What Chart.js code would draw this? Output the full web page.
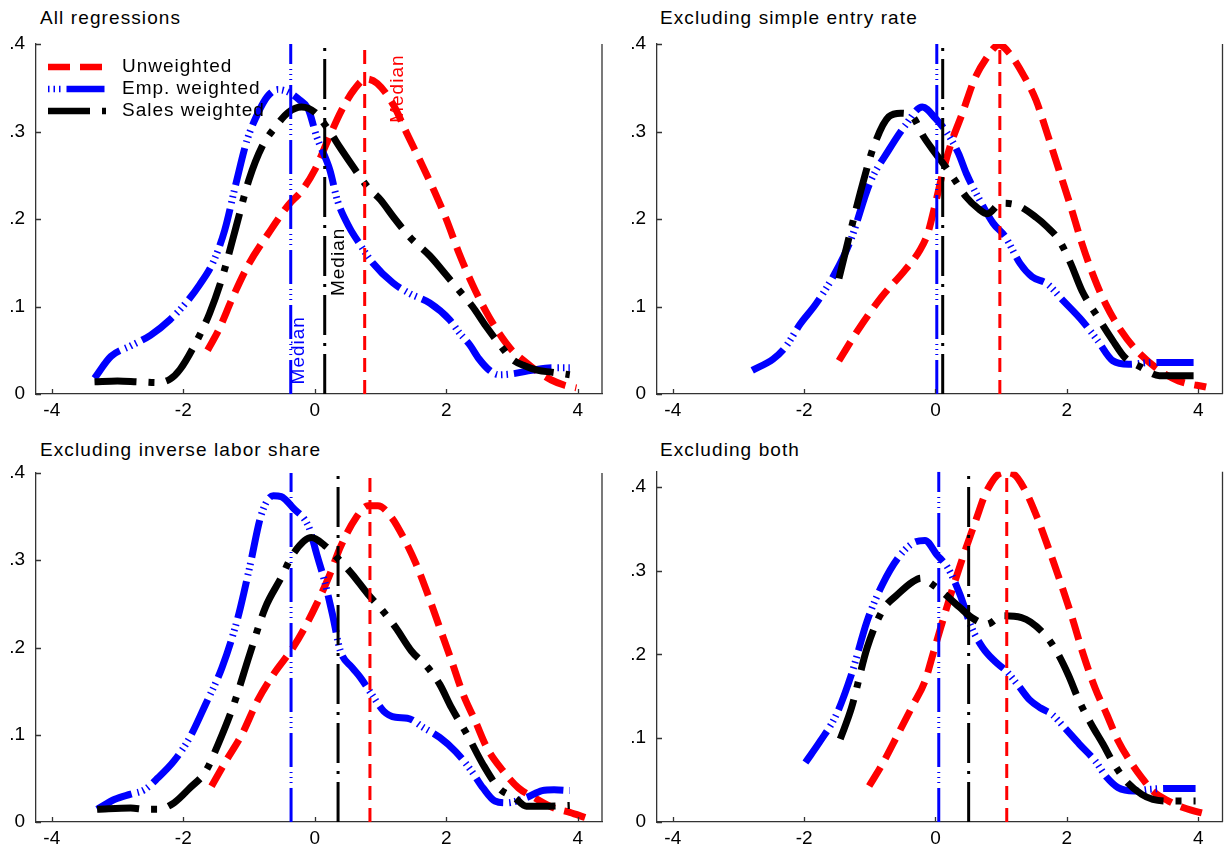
<!DOCTYPE html>
<html>
<head>
<meta charset="utf-8">
<script src="https://cdn.jsdelivr.net/npm/chart.js@4"></script>
<style>
  body { margin: 0; background: #fff; }
  #wrap { position: relative; width: 1225px; height: 851px; }
  canvas { position: absolute; }
  .ttl { position: absolute; font: 19px "Liberation Sans", Arial, sans-serif; letter-spacing: 1.1px; line-height: 22px; color: #000; white-space: nowrap; }
</style>
</head>
<body>
<div id="wrap">
  <div class="ttl" style="left:40px;top:7px">All regressions</div>
  <div class="ttl" style="left:660px;top:7px">Excluding simple entry rate</div>
  <div class="ttl" style="left:40px;top:439px">Excluding inverse labor share</div>
  <div class="ttl" style="left:660px;top:439px">Excluding both</div>
  <canvas id="c1" width="612" height="425" style="left:0;top:0"></canvas>
  <canvas id="c2" width="613" height="425" style="left:612px;top:0"></canvas>
  <canvas id="c3" width="612" height="423" style="left:0;top:428px"></canvas>
  <canvas id="c4" width="613" height="423" style="left:612px;top:428px"></canvas>
</div>
<script>
// tick labels
const xTicks = [-4, -2, 0, 2, 4];
const yTicks = [0, 0.1, 0.2, 0.3, 0.4];
const seriesNames = ["Unweighted", "Emp. weighted", "Sales weighted"];

// panel 1: all regressions
const p1UnwX = [-1.63,-1.45,-1.25,-1.0,-0.7,-0.4,-0.2,0.0,0.2,0.4,0.6,0.78,0.95,1.2,1.4,1.6,1.8,2.0,2.2,2.4,2.6,2.8,3.0,3.2,3.4,3.6,3.8,3.98];
const p1UnwY = [0.05,0.075,0.11,0.149,0.184,0.216,0.232,0.256,0.29,0.323,0.348,0.36,0.355,0.33,0.298,0.267,0.235,0.2,0.16,0.125,0.095,0.07,0.05,0.037,0.025,0.016,0.01,0.007];
const p1EmpX = [-3.35,-3.1,-2.8,-2.5,-2.2,-1.95,-1.75,-1.55,-1.37,-1.2,-1.03,-0.87,-0.72,-0.56,-0.4,-0.23,-0.1,0.03,0.23,0.35,0.53,0.68,0.88,1.19,1.44,1.75,2.05,2.2,2.36,2.5,2.66,2.8,3.0,3.3,3.6,3.88];
const p1EmpY = [0.018,0.043,0.055,0.067,0.085,0.105,0.125,0.15,0.187,0.24,0.29,0.32,0.34,0.348,0.345,0.336,0.326,0.294,0.256,0.22,0.19,0.172,0.15,0.127,0.115,0.104,0.085,0.07,0.056,0.04,0.027,0.022,0.023,0.027,0.03,0.03];
const p1SalesX = [-3.35,-3.0,-2.7,-2.4,-2.2,-2.05,-1.8,-1.6,-1.4,-1.2,-1.0,-0.8,-0.6,-0.4,-0.2,0.0,0.2,0.4,0.6,0.8,1.0,1.2,1.45,1.75,2.0,2.2,2.4,2.6,2.8,3.0,3.2,3.4,3.6,3.88];
const p1SalesY = [0.014,0.015,0.014,0.013,0.017,0.028,0.06,0.092,0.135,0.19,0.245,0.283,0.305,0.322,0.328,0.322,0.303,0.28,0.258,0.237,0.222,0.202,0.179,0.158,0.136,0.118,0.1,0.078,0.058,0.04,0.032,0.027,0.025,0.022];
const p1Medians = [0.76, -0.365, 0.152];

// panel 2: excluding simple entry rate
const p2UnwX = [-1.47,-1.18,-0.82,-0.47,-0.24,-0.12,0.0,0.12,0.24,0.41,0.59,0.76,0.97,1.12,1.35,1.53,1.70,1.88,2.06,2.23,2.41,2.59,2.82,3.06,3.41,3.70,4.12];
const p2UnwY = [0.038,0.073,0.111,0.141,0.164,0.183,0.218,0.256,0.287,0.321,0.359,0.382,0.399,0.39,0.363,0.336,0.298,0.256,0.214,0.172,0.134,0.103,0.073,0.05,0.027,0.015,0.008];
const p2EmpX = [-2.79,-2.47,-2.29,-2.06,-1.82,-1.53,-1.29,-1.0,-0.71,-0.47,-0.2,0.0,0.18,0.35,0.47,0.65,0.88,1.06,1.29,1.47,1.70,1.94,2.23,2.47,2.70,2.94,3.29,3.93];
const p2EmpY = [0.027,0.040,0.053,0.080,0.103,0.138,0.176,0.241,0.279,0.306,0.328,0.315,0.298,0.275,0.252,0.225,0.195,0.18,0.149,0.134,0.126,0.107,0.084,0.061,0.038,0.034,0.036,0.036];
const p2SalesX = [-1.47,-1.29,-1.12,-0.94,-0.71,-0.53,-0.35,-0.18,0.0,0.15,0.29,0.47,0.65,0.79,1.0,1.23,1.53,1.70,1.88,2.06,2.23,2.47,2.70,2.88,3.12,3.41,3.64,3.93];
const p2SalesY = [0.132,0.187,0.237,0.283,0.317,0.321,0.317,0.294,0.275,0.26,0.245,0.225,0.212,0.206,0.218,0.216,0.202,0.191,0.176,0.149,0.118,0.088,0.061,0.042,0.031,0.021,0.021,0.021];
const p2Medians = [0.98, 0.02, 0.11];

// panel 3: excluding inverse labor share
const p3UnwX = [-1.57,-1.35,-1.11,-0.87,-0.63,-0.33,-0.15,0.03,0.21,0.39,0.63,0.81,0.96,1.17,1.35,1.54,1.72,1.90,2.08,2.26,2.44,2.62,2.86,3.1,3.34,3.64,3.88,4.12];
const p3UnwY = [0.041,0.07,0.10,0.139,0.169,0.2,0.223,0.25,0.28,0.315,0.349,0.3625,0.3625,0.349,0.326,0.296,0.261,0.223,0.185,0.146,0.116,0.085,0.059,0.039,0.028,0.016,0.011,0.005];
const p3EmpX = [-3.31,-3.04,-2.8,-2.59,-2.38,-2.14,-1.9,-1.66,-1.41,-1.17,-0.99,-0.81,-0.63,-0.51,-0.33,-0.09,0.03,0.15,0.27,0.39,0.57,0.69,0.87,1.05,1.23,1.41,1.66,1.90,2.14,2.38,2.56,2.74,2.92,3.22,3.46,3.64,3.88];
const p3EmpY = [0.0145,0.026,0.032,0.037,0.051,0.07,0.097,0.135,0.177,0.234,0.292,0.353,0.374,0.373,0.36,0.338,0.307,0.276,0.238,0.196,0.177,0.166,0.146,0.127,0.12,0.119,0.108,0.097,0.081,0.059,0.039,0.024,0.022,0.028,0.036,0.037,0.036];
const p3SalesX = [-3.31,-2.8,-2.56,-2.38,-2.14,-1.9,-1.66,-1.47,-1.23,-0.99,-0.75,-0.51,-0.33,-0.05,0.15,0.39,0.57,0.81,0.99,1.23,1.47,1.72,1.90,2.08,2.32,2.56,2.8,3.04,3.22,3.46,3.88];
const p3SalesY = [0.0145,0.016,0.0145,0.0145,0.022,0.039,0.058,0.089,0.135,0.192,0.246,0.28,0.307,0.326,0.317,0.299,0.284,0.261,0.246,0.223,0.196,0.177,0.158,0.131,0.10,0.066,0.039,0.028,0.018,0.018,0.019];
const p3Medians = [0.84, -0.36, 0.355];

// panel 4: excluding both
const p4UnwX = [-1.01,-0.81,-0.57,-0.34,-0.16,-0.04,0.08,0.25,0.43,0.61,0.78,1.02,1.19,1.37,1.55,1.72,1.9,2.08,2.25,2.43,2.61,2.78,2.96,3.14,3.31,3.55,3.78,4.14];
const p4UnwY = [0.043,0.069,0.105,0.14,0.168,0.2,0.232,0.276,0.319,0.359,0.395,0.417,0.415,0.395,0.363,0.327,0.287,0.244,0.2,0.16,0.128,0.097,0.073,0.053,0.037,0.025,0.017,0.009];
const p4EmpX = [-1.98,-1.75,-1.51,-1.28,-1.04,-0.81,-0.57,-0.34,-0.16,0.02,0.19,0.37,0.55,0.72,0.9,1.08,1.25,1.43,1.6,1.78,1.96,2.19,2.43,2.61,2.78,3.02,3.25,3.55,3.96];
const p4EmpY = [0.071,0.097,0.128,0.176,0.24,0.283,0.315,0.333,0.336,0.319,0.303,0.272,0.232,0.208,0.192,0.18,0.164,0.146,0.136,0.128,0.113,0.093,0.073,0.053,0.041,0.037,0.039,0.04,0.04];
const p4SalesX = [-1.45,-1.28,-1.04,-0.81,-0.57,-0.34,-0.22,-0.04,0.14,0.37,0.55,0.78,1.02,1.31,1.66,1.84,2.02,2.19,2.37,2.55,2.72,2.9,3.14,3.31,3.55,3.96];
const p4SalesY = [0.099,0.136,0.208,0.252,0.272,0.287,0.291,0.283,0.272,0.256,0.244,0.236,0.246,0.244,0.224,0.204,0.176,0.144,0.117,0.093,0.069,0.049,0.033,0.027,0.025,0.025];
const p4Medians = [1.085, 0.05, 0.505];

const FONT = '"Liberation Sans", Arial, sans-serif';
const axisColor = "#333";

// line looks: unweighted dashed, emp longdash+3 dots, sales longdash+dot
const styles = [
  { color: "#ff0000", dash: [22, 10], mdash: [14, 8] },
  { color: "#0000ff", dash: [38, 6, 1.5, 4, 1.5, 4, 1.5, 6], mdash: [34, 5, 1, 4, 1, 4, 1, 5] },
  { color: "#000000", dash: [42, 12, 6, 12], mdash: [40, 8, 3, 8] }
];

const pts = (xs, ys) => xs.map((v, i) => ({ x: v, y: ys[i] }));

function curve(xs, ys, st, order) {
  return {
    data: pts(xs, ys),
    borderColor: st.color,
    borderWidth: 7,
    borderDash: st.dash,
    borderCapStyle: "butt",
    borderJoinStyle: "round",
    cubicInterpolationMode: "monotone",
    pointRadius: 0,
    fill: false,
    order: order
  };
}

function medianLine(m, top, st) {
  return {
    data: [{ x: m, y: 0 }, { x: m, y: top }],
    borderColor: st.color,
    borderWidth: 3,
    borderDash: st.mdash,
    borderCapStyle: "butt",
    pointRadius: 0,
    fill: false,
    order: 0
  };
}

const stataFrame = {
  id: "stataFrame",
  afterDraw(chart, args, opts) {
    const { ctx, chartArea: a, scales: { x, y } } = chart;
    ctx.save();
    ctx.strokeStyle = axisColor;
    ctx.lineWidth = 1.3;
    ctx.setLineDash([]);
    ctx.beginPath();
    ctx.moveTo(a.right, a.top);
    ctx.lineTo(a.right, a.bottom);
    x.ticks.forEach(t => {
      const px = Math.round(x.getPixelForValue(t.value)) + 0.5;
      ctx.moveTo(px, a.bottom);
      ctx.lineTo(px, a.bottom - 5);
    });
    y.ticks.forEach(t => {
      const py = Math.round(y.getPixelForValue(t.value)) + 0.5;
      ctx.moveTo(a.left, py);
      ctx.lineTo(a.left + 5, py);
    });
    ctx.stroke();

    ctx.font = "19px " + FONT;
    ctx.letterSpacing = "1px";

    // rotated "Median" labels
    (opts.labels || []).forEach(l => {
      ctx.save();
      ctx.translate(x.getPixelForValue(l.x), y.getPixelForValue(l.y));
      ctx.rotate(-Math.PI / 2);
      ctx.fillStyle = l.color;
      ctx.textAlign = "center";
      ctx.textBaseline = "middle";
      ctx.fillText(l.text, 0, 0);
      ctx.restore();
    });

    // legend inside the plot
    if (opts.legend) {
      const lg = opts.legend;
      seriesNames.forEach((name, i) => {
        const st = styles[i];
        const yy = a.top + lg.top + i * lg.step;
        ctx.strokeStyle = st.color;
        ctx.lineWidth = 6.5;
        ctx.lineCap = "butt";
        ctx.setLineDash(st.dash);
        ctx.lineDashOffset = lg.offsets[i];
        ctx.beginPath();
        ctx.moveTo(a.left + lg.left, yy);
        ctx.lineTo(a.left + lg.left + lg.len, yy);
        ctx.stroke();
        ctx.setLineDash([]);
        ctx.fillStyle = "#000";
        ctx.textAlign = "left";
        ctx.textBaseline = "middle";
        ctx.fillText(name, a.left + lg.textX, yy);
      });
    }
    ctx.restore();
  }
};

function makePanel(id, d, medians, yMax, box, extra) {
  const datasets = [
    curve(d[0], d[1], styles[0], 3),
    curve(d[2], d[3], styles[1], 2),
    curve(d[4], d[5], styles[2], 1)
  ];
  medians.forEach((m, i) => datasets.push(medianLine(m, yMax, styles[i])));

  new Chart(document.getElementById(id), {
    type: "line",
    data: { datasets: datasets },
    plugins: [stataFrame],
    options: {
      responsive: false,
      animation: false,
      devicePixelRatio: 1,
      layout: { padding: { top: box.padTop, right: box.padRight, left: 0, bottom: 0 } },
      plugins: {
        legend: { display: false },
        tooltip: { enabled: false },
        stataFrame: extra || {}
      },
      scales: {
        x: {
          type: "linear",
          min: -4.24,
          max: 4.37,
          afterBuildTicks: s => { s.ticks = xTicks.map(v => ({ value: v })); },
          afterFit: s => { s.height = box.xh; },
          grid: { display: false, drawTicks: false },
          border: { color: axisColor, width: 1.3 },
          ticks: { padding: 5, maxRotation: 0, color: "#000", font: { family: FONT, size: 19 }, callback: v => String(v) }
        },
        y: {
          type: "linear",
          min: 0,
          max: yMax,
          afterBuildTicks: s => { s.ticks = yTicks.map(v => ({ value: v })); },
          afterFit: s => { s.width = box.yw; },
          grid: { display: false, drawTicks: false },
          border: { color: axisColor, width: 1.3 },
          ticks: {
            padding: 11, color: "#000", font: { family: FONT, size: 19 },
            callback: v => (v === 0 ? "0" : String(v).replace("0.", "."))
          }
        }
      }
    }
  });
}

makePanel("c1", [p1UnwX, p1UnwY, p1EmpX, p1EmpY, p1SalesX, p1SalesY], p1Medians, 0.4,
  { yw: 36, xh: 31, padTop: 44, padRight: 10 },
  {
    labels: [
      { text: "Median", x: -0.243, y: 0.05, color: "#0000ff" },
      { text: "Median", x: 0.365, y: 0.151, color: "#000000" },
      { text: "Median", x: 1.262, y: 0.349, color: "#ff0000" }
    ],
    legend: { left: 12, len: 58, textX: 86, top: 23, step: 22, offsets: [0, 44, 0] }
  });
makePanel("c2", [p2UnwX, p2UnwY, p2EmpX, p2EmpY, p2SalesX, p2SalesY], p2Medians, 0.4,
  { yw: 45, xh: 31, padTop: 44, padRight: 2.5 });
makePanel("c3", [p3UnwX, p3UnwY, p3EmpX, p3EmpY, p3SalesX, p3SalesY], p3Medians, 0.4,
  { yw: 36, xh: 29, padTop: 45, padRight: 10 });
makePanel("c4", [p4UnwX, p4UnwY, p4EmpX, p4EmpY, p4SalesX, p4SalesY], p4Medians, 0.418,
  { yw: 45, xh: 29, padTop: 43.7, padRight: 2.5 });
</script>
</body>
</html>
